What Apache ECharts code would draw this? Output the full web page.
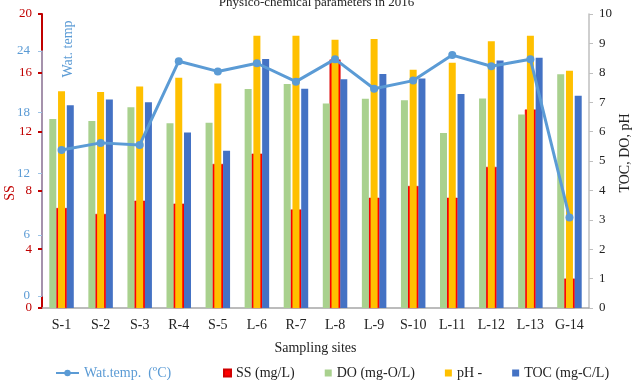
<!DOCTYPE html>
<html>
<head>
<meta charset="utf-8">
<script src="https://cdn.jsdelivr.net/npm/echarts@6/dist/echarts.min.js"></script>
<style>
  html, body { margin: 0; padding: 0; background: #fff; }
  #chart { width: 633px; height: 380px; }
</style>
</head>
<body>
<div id="chart"></div>
<script>
// sampling sites and measured values (2016)
var sites = ["S-1", "S-2", "S-3", "R-4", "S-5", "L-6", "R-7", "L-8", "L-9", "S-10", "L-11", "L-12", "L-13", "G-14"];
var ssData = [6.8, 6.4, 7.3, 7.1, 9.8, 10.5, 6.7, 16.9, 7.5, 8.3, 7.5, 9.6, 13.5, 2.0];
var doData = [6.43, 6.36, 6.83, 6.28, 6.3, 7.45, 7.62, 6.96, 7.12, 7.07, 5.95, 7.13, 6.58, 7.95];
var phData = [7.37, 7.35, 7.53, 7.83, 7.64, 9.26, 9.26, 9.12, 9.15, 8.1, 8.34, 9.07, 9.26, 8.07];
var tocData = [6.9, 7.09, 7.0, 5.97, 5.35, 8.47, 7.46, 7.78, 7.96, 7.81, 7.28, 8.42, 8.51, 7.22];
var tempData = [14.3, 15.0, 14.8, 23.0, 22.0, 22.8, 21.0, 23.2, 20.3, 21.1, 23.6, 22.5, 23.2, 7.7];

var ssTicks = { min: 0, max: 20, interval: 4 };
var rightTicks = { min: 0, max: 10, interval: 1 };
var tempTicks = { min: 0, max: 24, interval: 6 };

var serif = "Liberation Serif";
var chart = echarts.init(document.getElementById("chart"));

chart.setOption({
  animation: false,
  textStyle: { fontFamily: serif },
  title: {
    text: "Physico-chemical parameters in 2016",
    left: "center",
    top: -9,
    textStyle: { fontFamily: serif, fontSize: 13, fontWeight: "normal", color: "#222" }
  },
  grid: [
    { left: 42, right: 44, top: 14, bottom: 72, outerBoundsMode: "none" },
    { left: 42, right: 44, top: 51, bottom: 84, outerBoundsMode: "none" }
  ],
  legend: [
    {
      left: 50,
      top: 361,
      itemWidth: 23,
      itemHeight: 8,
      textStyle: { fontFamily: serif, fontSize: 14, color: "#5b9bd5" },
      data: ["Wat.temp.  (ºC)"]
    },
    {
      left: 218,
      top: 361,
      itemGap: 30,
      itemWidth: 7,
      itemHeight: 7,
      icon: "rect",
      textStyle: { fontFamily: serif, fontSize: 14, color: "#222" },
      data: ["SS (mg/L)", "DO (mg-O/L)", "pH -", "TOC (mg-C/L)"]
    }
  ],
  // axis titles placed by hand, like the original's text boxes
  graphic: [
    {
      type: "text",
      x: 10,
      y: 193,
      rotation: Math.PI / 2,
      style: { text: "SS", fill: "#c00000", font: "14px 'Liberation Serif'", textAlign: "center", textVerticalAlign: "middle" }
    },
    {
      type: "text",
      x: 68,
      y: 49,
      rotation: Math.PI / 2,
      style: { text: "Wat. temp", fill: "#5b9bd5", font: "14px 'Liberation Serif'", textAlign: "center", textVerticalAlign: "middle" }
    },
    {
      type: "text",
      x: 625,
      y: 153,
      rotation: Math.PI / 2,
      style: { text: "TOC, DO, pH", fill: "#222", font: "14px 'Liberation Serif'", textAlign: "center", textVerticalAlign: "middle" }
    }
  ],
  xAxis: [
    {
      type: "category",
      gridIndex: 0,
      data: sites,
      axisTick: { show: false },
      axisLine: { lineStyle: { color: "#a6a6a6", width: 1.5 } },
      axisLabel: { color: "#222", fontSize: 14, fontFamily: serif, margin: 10, interval: 0 },
      name: "Sampling sites",
      nameLocation: "middle",
      nameGap: 33,
      nameTextStyle: { color: "#222", fontSize: 14, fontFamily: serif }
    },
    { type: "category", gridIndex: 0, data: sites, show: false },
    { type: "category", gridIndex: 1, data: sites, show: false }
  ],
  yAxis: [
    {
      type: "value",
      gridIndex: 0,
      position: "left",
      min: ssTicks.min,
      max: ssTicks.max,
      interval: ssTicks.interval,
      splitLine: { show: false },
      axisLine: { show: true, lineStyle: { color: "#c00000", width: 2 } },
      axisTick: { show: true, length: 4, lineStyle: { color: "#c00000", width: 2 } },
      axisLabel: { color: "#c00000", fontSize: 13, fontFamily: serif, margin: 10 }
    },
    {
      type: "value",
      gridIndex: 0,
      position: "right",
      min: rightTicks.min,
      max: rightTicks.max,
      interval: rightTicks.interval,
      splitLine: { show: false },
      axisLine: { show: true, lineStyle: { color: "#bfbfbf", width: 1.5 } },
      axisTick: { show: true, length: 4, lineStyle: { color: "#bfbfbf" } },
      axisLabel: { color: "#222", fontSize: 13, fontFamily: serif, margin: 10 }
    },
    {
      type: "value",
      gridIndex: 1,
      position: "left",
      min: tempTicks.min,
      max: tempTicks.max,
      interval: tempTicks.interval,
      splitLine: { show: false },
      axisLine: { show: true, lineStyle: { color: "#9dc3e6", width: 1.5 } },
      axisTick: { show: true, length: 4, lineStyle: { color: "#9dc3e6" } },
      axisLabel: { color: "#5b9bd5", fontSize: 13, fontFamily: serif, margin: 12 }
    }
  ],
  series: [
    {
      name: "SS (mg/L)",
      type: "bar",
      xAxisIndex: 1,
      yAxisIndex: 0,
      barWidth: 11,
      data: ssData,
      itemStyle: { color: "#ff0000", borderColor: "#d00000", borderWidth: 0.5 }
    },
    {
      name: "DO (mg-O/L)",
      type: "bar",
      xAxisIndex: 0,
      yAxisIndex: 1,
      barWidth: 7,
      barGap: "25%",
      data: doData,
      itemStyle: { color: "#a9d18e" }
    },
    {
      name: "pH -",
      type: "bar",
      xAxisIndex: 0,
      yAxisIndex: 1,
      barWidth: 7,
      barGap: "25%",
      data: phData,
      itemStyle: { color: "#ffc000" }
    },
    {
      name: "TOC (mg-C/L)",
      type: "bar",
      xAxisIndex: 0,
      yAxisIndex: 1,
      barWidth: 7,
      barGap: "25%",
      data: tocData,
      itemStyle: { color: "#4472c4" }
    },
    {
      name: "Wat.temp.  (ºC)",
      type: "line",
      xAxisIndex: 2,
      yAxisIndex: 2,
      data: tempData,
      symbol: "circle",
      symbolSize: 8,
      lineStyle: { color: "#5b9bd5", width: 3 },
      itemStyle: { color: "#5b9bd5" },
      z: 5
    }
  ]
});
</script>
</body>
</html>
